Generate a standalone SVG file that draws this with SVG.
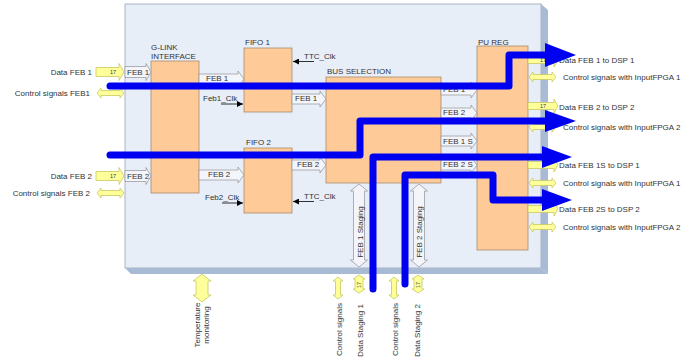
<svg xmlns="http://www.w3.org/2000/svg" width="695" height="358" viewBox="0 0 695 358">
<style>
text{font-family:"Liberation Sans",Arial,sans-serif;font-size:8px;fill:#333}
.box{fill:#fdca98;stroke:#a88a6c;stroke-width:0.8}
.g{fill:#f3f5fa;stroke:#9c9ca0;stroke-width:0.8}
.y{fill:#ffff99;stroke:#c8c864;stroke-width:0.8}
.blue{fill:none;stroke:#0000f0;stroke-width:7;stroke-linejoin:round;stroke-linecap:round}
.bh{fill:#0000f0}
.clk{stroke:#000;stroke-width:0.8;fill:none}
.s{font-size:5.5px}
</style>
<defs>
<marker id="ah" viewBox="0 0 6 6" refX="6" refY="3" markerWidth="6" markerHeight="6" orient="auto" markerUnits="userSpaceOnUse">
<path d="M0 0 L6 3 L0 6 Z" fill="#000"/>
</marker>
</defs>
<g id="board">
<rect x="125" y="4" width="416" height="264" fill="#e8eef8" stroke="#9aa4b4" stroke-width="0.8"/>
<polygon points="541,4 548,10 548,274 541,268" fill="#a9bad4"/>
<polygon points="125,268 541,268 548,274 131,274" fill="#a9bad4"/>
</g>
<g id="glink">
<rect class="box" x="151" y="61" width="48" height="132"/>
<text x="151" y="50">G-LINK</text>
<text x="151" y="59">INTERFACE</text>
</g>
<g id="fifo1">
<rect class="box" x="244" y="48" width="48" height="64"/>
<text x="245" y="45">FIFO 1</text>
</g>
<g id="fifo2">
<rect class="box" x="244" y="148" width="48" height="65"/>
<text x="246" y="145">FIFO 2</text>
</g>
<g id="bussel">
<rect class="box" x="326" y="77" width="115" height="106"/>
<text x="327" y="74">BUS SELECTION</text>
</g>
<g id="pureg">
<rect class="box" x="477" y="46" width="51" height="204"/>
<text x="478" y="45">PU REG</text>
</g>
<g id="left-io">
<text x="92" y="75" text-anchor="end">Data FEB 1</text>
<path class="y" d="M96 67.5 H119 V63.5 L124 72 L119 80.5 V76.5 H96 Z"/>
<text x="110" y="74" class="s">17</text>
<text x="90" y="96" text-anchor="end">Control signals FEB1</text>
<path class="y" d="M97 93 L101 88 V90.5 H120 V88 L124 93 L120 98 V95.5 H101 V98 Z"/>
<text x="92" y="179" text-anchor="end">Data FEB 2</text>
<path class="y" d="M96 171.5 H119 V167.5 L124 176 L119 184.5 V180.5 H96 Z"/>
<text x="110" y="178" class="s">17</text>
<text x="90" y="196" text-anchor="end">Control signals FEB 2</text>
<path class="y" d="M97 193 L101 188 V190.5 H120 V188 L124 193 L120 198 V195.5 H101 V198 Z"/>
</g>
<g id="internal-buses">
<path class="g" d="M125 66.5 H146 V63.5 L151 72 L146 80.5 V77.5 H125 Z"/>
<text x="127" y="75">FEB 1</text>
<path class="g" d="M125 170.5 H146 V167.5 L151 176 L146 184.5 V181.5 H125 Z"/>
<text x="127" y="179">FEB 2</text>
<path class="g" d="M199 74 H238 V71 L244 79 L238 87 V84 H199 Z"/>
<text x="206" y="81">FEB 1</text>
<path class="g" d="M292 94 H320 V91 L326 99 L320 107 V104 H292 Z"/>
<text x="295" y="101">FEB 1</text>
<path class="g" d="M199 170 H238 V167 L244 175 L238 183 V180 H199 Z"/>
<text x="208" y="177">FEB 2</text>
<path class="g" d="M292 160 H320 V157 L326 165 L320 173 V170 H292 Z"/>
<text x="297" y="167">FEB 2</text>
<path class="g" d="M441 85 H471 V82 L477 90 L471 98 V95 H441 Z"/>
<text x="443" y="92">FEB 1</text>
<path class="g" d="M441 108 H471 V105 L477 113 L471 121 V118 H441 Z"/>
<text x="443" y="115">FEB 2</text>
<path class="g" d="M441 136 H471 V133 L477 141 L471 149 V146 H441 Z"/>
<text x="443" y="144">FEB 1 S</text>
<path class="g" d="M441 160 H471 V157 L477 165 L471 173 V170 H441 Z"/>
<text x="443" y="167">FEB 2 S</text>
<path class="g" d="M359 184 L367.5 191 H364.5 V260 H367.5 L359 267 L350.5 260 H353.5 V191 H350.5 Z"/>
<text transform="translate(362.5,232) rotate(-90)" text-anchor="middle">FEB 1 Staging</text>
<path class="g" d="M419 184 L427.5 191 H424.5 V260 H427.5 L419 267 L410.5 260 H413.5 V191 H410.5 Z"/>
<text transform="translate(422,232) rotate(-90)" text-anchor="middle">FEB 2 Staging</text>
</g>
<g id="clocks">
<text x="304" y="59">TTC_Clk</text>
<line class="clk" x1="314" y1="61.5" x2="293" y2="61.5" marker-end="url(#ah)"/>
<text x="203" y="101">Feb1_Clk</text>
<line class="clk" x1="221" y1="104" x2="243" y2="104" marker-end="url(#ah)"/>
<text x="304" y="199">TTC_Clk</text>
<line class="clk" x1="314" y1="201.5" x2="293" y2="201.5" marker-end="url(#ah)"/>
<text x="205" y="200">Feb2_Clk</text>
<line class="clk" x1="222" y1="203" x2="243" y2="203" marker-end="url(#ah)"/>
</g>
<g id="right-io">
<path class="y" d="M528 56.5 H554 V53 L558 60 L554 67 V63.5 H528 Z"/>
<text x="540" y="62" class="s">17</text>
<text x="559" y="63">Data FEB 1 to DSP 1</text>
<path class="y" d="M529 77 L533 72 V74.5 H552 V72 L556 77 L552 82 V79.5 H533 V82 Z"/>
<text x="563" y="80">Control signals with InputFPGA 1</text>
<path class="y" d="M528 102.5 H554 V99 L558 106 L554 113 V109.5 H528 Z"/>
<text x="540" y="108" class="s">17</text>
<text x="559" y="110">Data FEB 2 to DSP 2</text>
<path class="y" d="M529 127 L533 122 V124.5 H552 V122 L556 127 L552 132 V129.5 H533 V132 Z"/>
<text x="563" y="130">Control signals with InputFPGA 2</text>
<path class="y" d="M528 161.5 H554 V158 L558 165 L554 172 V168.5 H528 Z"/>
<text x="559" y="168">Data FEB 1S to DSP 1</text>
<path class="y" d="M529 183 L533 178 V180.5 H552 V178 L556 183 L552 188 V185.5 H533 V188 Z"/>
<text x="563" y="186">Control signals with InputFPGA 1</text>
<path class="y" d="M528 205.5 H554 V202 L558 209 L554 216 V212.5 H528 Z"/>
<text x="559" y="212">Data FEB 2S to DSP 2</text>
<path class="y" d="M529 227 L533 222 V224.5 H552 V222 L556 227 L552 232 V229.5 H533 V232 Z"/>
<text x="563" y="230">Control signals with InputFPGA 2</text>
</g>
<g id="bottom-io">
<path class="y" d="M202 274 L211 281 H208 V295 H211 L202 302 L193 295 H196 V281 H193 Z"/>
<text transform="translate(200,325) rotate(-90)" text-anchor="middle">Temperature</text>
<text transform="translate(209,325) rotate(-90)" text-anchor="middle">monitoring</text>
<path class="y" d="M338 277 L343 281 H340.5 V295 H343 L338 299 L333 295 H335.5 V281 H333 Z"/>
<text transform="translate(341.5,356) rotate(-90)">Control signals</text>
<path class="y" d="M359 275 L365 279 H363 V289 H365 L359 293 L353 289 H355 V279 H353 Z"/>
<text transform="translate(361,288) rotate(-90)" class="s">17</text>
<text transform="translate(363,357) rotate(-90)">Data Staging 1</text>
<path class="y" d="M394 277 L399 281 H396.5 V295 H399 L394 299 L389 295 H391.5 V281 H389 Z"/>
<text transform="translate(397.5,356) rotate(-90)">Control signals</text>
<path class="y" d="M418 275 L424 279 H422 V289 H424 L418 293 L412 289 H414 V279 H412 Z"/>
<text transform="translate(420,288) rotate(-90)" class="s">17</text>
<text transform="translate(420,357) rotate(-90)">Data Staging 2</text>
</g>
<g id="connectors">
<path class="blue" d="M110 86 H509 V55 H548"/>
<polygon class="bh" points="545,43 576,55 545,67"/>
<path class="blue" d="M110 155 H360 V121 H548"/>
<polygon class="bh" points="545,110 576,121 545,132"/>
<path class="blue" d="M373 289 V157 H545"/>
<polygon class="bh" points="542,146 572,157 542,168"/>
<path class="blue" d="M405 284 V175 H493 V200 H545"/>
<polygon class="bh" points="542,189 572,200 542,211"/>
</g>
</svg>
